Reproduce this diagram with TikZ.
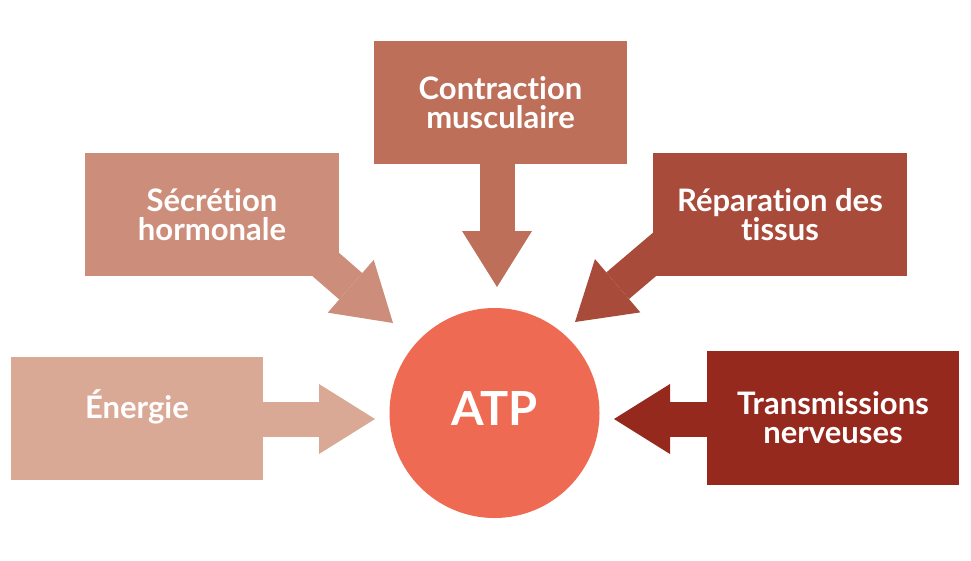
\documentclass[tikz,border=0pt]{standalone}
\usepackage{fontspec}
\setmainfont{Lato}[Ligatures=NoCommon]
\usepackage{tikz}
\usetikzlibrary{arrows.meta, calc, backgrounds}

\definecolor{enercol}{HTML}{D9A996}
\definecolor{secrcol}{HTML}{CC8E7A}
\definecolor{contcol}{HTML}{BE6F59}
\definecolor{repacol}{HTML}{A94B3A}
\definecolor{transcol}{HTML}{96291D}
\definecolor{atpcol}{HTML}{EE6A52}

\tikzstyle{box}        = [rectangle, minimum width=253pt, minimum height=123pt,
                          inner sep=0pt, align=center, text=white,
                          font=\bfseries\fontsize{31}{29}\selectfont]
\tikzstyle{blockarrow} = [line width=35pt,
                          -{Triangle[width=70pt, length=56pt, line width=0pt]}]

\begin{document}
\begin{tikzpicture}[x=1pt, y=-1pt]
  \useasboundingbox (0,0) rectangle (971,560);

  % --- Centre ---
  \node[circle, fill=atpcol, minimum size=210pt, inner sep=0pt, text=white,
        font=\bfseries\fontsize{47}{47}\selectfont] (atp) at (494.5,413)
        {\raisebox{8pt}{ATP}};

  % --- Boxes ---
  \node[box, fill=enercol, minimum width=252pt, text depth=28pt] (ener) at (137,418.5) {Énergie};
  \node[box, fill=secrcol, minimum width=254pt] (secr) at (212,214.5) {Sécrétion\\hormonale};
  \node[box, fill=contcol] (cont) at (500.5,102.5) {Contraction\\musculaire};
  \node[box, fill=repacol, minimum width=254pt] (repa) at (780,214.5) {Réparation des\\tissus};
  \node[box, fill=transcol, minimum width=252pt, minimum height=134pt] (trans) at (833,418)
        {Transmissions\\nerveuses};

  % Arrow tips
  \coordinate (t0) at (497,287);
  \coordinate (t1) at (393,323);
  \coordinate (t2) at (575,322);
  \coordinate (t3) at (375,419);
  \coordinate (t4) at (614,419);

  % Arrows (behind the boxes)
  \begin{scope}[on background layer]
    \draw[blockarrow, draw=contcol, shorten <=-20pt] (t0 |- cont.south) -- (t0);
    \draw[blockarrow, draw=secrcol, shorten <=-30pt] (secr.south east) -- (t1);
    \draw[blockarrow, draw=repacol, shorten <=-30pt] (repa.198) -- (t2);
    \draw[blockarrow, draw=enercol, shorten <=-20pt] (ener.east |- t3) -- (t3);
    \draw[blockarrow, draw=transcol, shorten <=-20pt] (trans.west |- t4) -- (t4);
  \end{scope}
\end{tikzpicture}
\end{document}
